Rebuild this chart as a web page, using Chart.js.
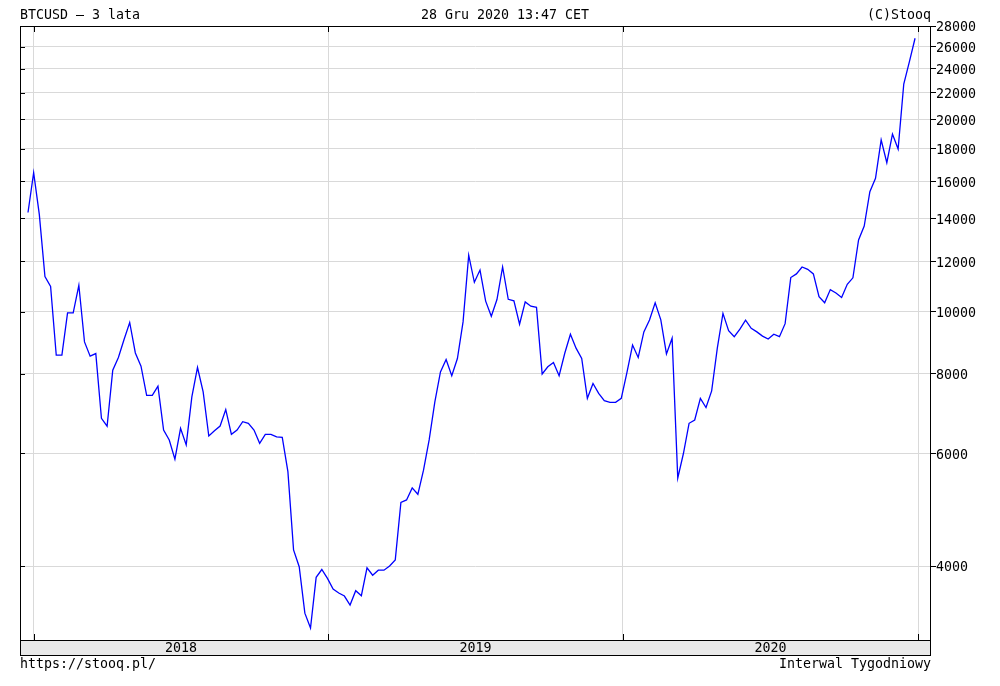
<!DOCTYPE html>
<html>
<head>
<meta charset="utf-8">
<script src="https://cdn.jsdelivr.net/npm/chart.js@4/dist/chart.umd.min.js"></script>
<style>
  body { margin: 0; background: #fff; }
  #wrap { position: relative; width: 1000px; height: 686px; }
  .txt { position: absolute; font: 13.3px "DejaVu Sans Mono", monospace; line-height: 16px; color: #000; white-space: pre; }
</style>
</head>
<body>
<div id="wrap">
  <canvas id="c" width="1000" height="686"></canvas>
  <div class="txt" style="left:20px;top:7px">BTCUSD – 3 lata</div>
  <div class="txt" style="left:0;width:1010px;top:7px;text-align:center">28 Gru 2020 13:47 CET</div>
  <div class="txt" style="right:69px;top:7px">(C)Stooq</div>
  <div class="txt" style="left:20px;top:656px">https://stooq.pl/</div>
  <div class="txt" style="right:69px;top:656px">Interwal Tygodniowy</div>
</div>
<script>
// weekly closes BTCUSD, first week starts 2017-12-25
const firstWeek = '2017-12-25';
const prices = [
  14300, 16500, 14200, 11350, 10950, 8550, 8550, 9960, 9960, 11000,
  8970, 8520, 8600, 6810, 6620, 8100, 8480, 9050, 9620, 8620,
  8220, 7400, 7400, 7650, 6530, 6300, 5880, 6570, 6190, 7360,
  8180, 7490, 6390, 6510, 6625, 7030, 6430, 6530, 6730, 6690,
  6530, 6225, 6430, 6430, 6370, 6360, 5620, 4240, 3990, 3375,
  3200, 3840, 3950, 3825, 3680, 3630, 3590, 3475, 3660, 3595,
  3975, 3870, 3940, 3940, 4000, 4090, 5030, 5075, 5300, 5180,
  5650, 6300, 7220, 8050, 8420, 7940, 8450, 9640, 12260, 11120,
  11620, 10390, 9840, 10450, 11750, 10460, 10400, 9560, 10360, 10200,
  10160, 7990, 8200, 8330, 7940, 8610, 9220, 8770, 8450, 7320,
  7720, 7450, 7260, 7215, 7215, 7320, 8030, 8870, 8480, 9300,
  9710, 10330, 9710, 8590, 9090, 5490, 6000, 6690, 6770, 7320,
  7080, 7520, 8770, 9940, 9340, 9140, 9390, 9700, 9420, 9300,
  9160, 9065, 9220, 9140, 9580, 11310, 11460, 11750, 11650, 11460,
  10560, 10330, 10830, 10700, 10530, 11040, 11300, 12950, 13620, 15410,
  16170, 18570, 17110, 18970, 17970, 22720, 24620, 26790
];
const years = ['2018', '2019', '2020'];
const yearStarts = ['2018-01-01', '2019-01-01', '2020-01-01', '2021-01-01'];
const yTicks = [4000, 6000, 8000, 10000, 12000, 14000, 16000, 18000, 20000, 22000, 24000, 26000, 28000];
const yMin = 3064, yMax = 28000;

const WEEK = 7 * 86400000;
const weekIdx = d => (Date.parse(d) - Date.parse(firstWeek)) / WEEK;
const bounds = yearStarts.map(weekIdx);
const mids = years.map((y, i) => (bounds[i] + bounds[i + 1]) / 2);
const isMid = v => mids.some(m => Math.abs(m - v) < 1e-6);

const FONT = { family: '"DejaVu Sans Mono", monospace', size: 13.3 };
const GRID = '#d9d9d9';

const frame = {
  id: 'frame',
  beforeDraw(chart) {
    const { ctx, chartArea: a } = chart;
    ctx.save();
    ctx.fillStyle = '#e9e9e9';
    ctx.fillRect(a.left, a.bottom, a.right - a.left, 15);
    ctx.restore();
  },
  afterDraw(chart) {
    const { ctx, chartArea: a, scales } = chart;
    ctx.save();
    ctx.strokeStyle = '#000';
    ctx.lineWidth = 1;
    ctx.strokeRect(a.left + 0.5, a.top + 0.5, a.right - a.left - 1, a.bottom - a.top);
    ctx.strokeRect(a.left + 0.5, a.bottom + 0.5, a.right - a.left - 1, 15);
    ctx.beginPath();
    bounds.forEach(b => {
      const x = Math.round(scales.x.getPixelForValue(b)) + 0.5;
      ctx.moveTo(x, a.bottom); ctx.lineTo(x, a.bottom - 6);
      ctx.moveTo(x, a.top); ctx.lineTo(x, a.top + 6);
    });
    yTicks.forEach(t => {
      const y = Math.round(scales.y.getPixelForValue(t)) + 0.5;
      ctx.moveTo(a.left, y); ctx.lineTo(a.left + 5, y);
    });
    ctx.stroke();
    ctx.restore();
  }
};

new Chart(document.getElementById('c'), {
  type: 'line',
  data: {
    datasets: [{
      data: prices.map((v, i) => ({ x: i, y: v })),
      borderColor: '#0000ff',
      borderWidth: 1.3,
      pointRadius: 0,
      tension: 0,
      fill: false
    }]
  },
  plugins: [frame],
  options: {
    responsive: false,
    devicePixelRatio: 1,
    animation: false,
    layout: { padding: { left: 20, top: 26, right: 0, bottom: 31 } },
    plugins: { legend: { display: false }, tooltip: { enabled: false }, title: { display: false } },
    scales: {
      x: {
        type: 'linear',
        min: -1.416,
        max: 159.82,
        afterFit: s => { s.height = 15; },
        afterBuildTicks: s => {
          s.ticks = [...bounds, ...mids].sort((p, q) => p - q).map(v => ({ value: v }));
        },
        border: { display: false },
        grid: {
          drawTicks: false,
          color: c => (c.tick && isMid(c.tick.value)) ? 'rgba(0,0,0,0)' : GRID
        },
        ticks: {
          autoSkip: false,
          maxRotation: 0,
          padding: 1,
          color: '#000',
          font: FONT,
          callback: v => { const k = mids.findIndex(m => Math.abs(m - v) < 1e-6); return k >= 0 ? years[k] : ''; }
        }
      },
      y: {
        type: 'logarithmic',
        position: 'right',
        min: yMin,
        max: yMax,
        afterFit: s => { s.width = 69; },
        afterBuildTicks: s => { s.ticks = yTicks.map(v => ({ value: v })); },
        border: { display: false },
        grid: { color: GRID, tickColor: '#000', tickLength: 5, drawTicks: true },
        ticks: {
          padding: 0,
          labelOffset: 2,
          color: '#000',
          font: FONT,
          autoSkip: false,
          callback: v => String(v)
        }
      }
    }
  }
});
</script>
</body>
</html>
